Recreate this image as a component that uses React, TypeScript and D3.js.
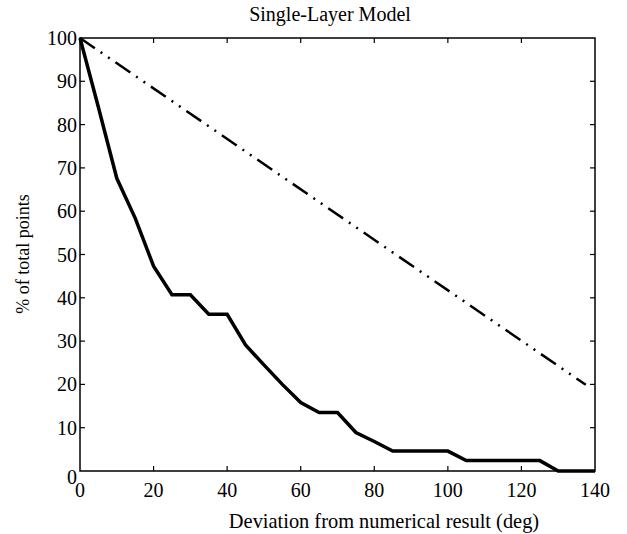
import React, { useRef, useEffect } from 'react';
import * as d3 from 'd3';

const degrees = [0, 5, 10, 15, 20, 25, 30, 35, 40, 45, 50, 55, 60, 65, 70, 75, 80, 85, 90, 95, 100, 105, 110, 115, 120, 125, 130, 135, 140];
const percentPoints = [100, 84, 67.6, 58.4, 47.3, 40.7, 40.7, 36.2, 36.2, 29.1, 24.5, 20, 15.8, 13.5, 13.5, 8.9, 6.8, 4.6, 4.6, 4.6, 4.6, 2.4, 2.4, 2.4, 2.4, 2.4, 0, 0, 0];
const refDegrees = [0, 137.5];
const refPercent = [100, 19.9];
const xTicks = [0, 20, 40, 60, 80, 100, 120, 140];
const yTicks = [0, 10, 20, 30, 40, 50, 60, 70, 80, 90, 100];

const App = () => {
  const ref = useRef<SVGSVGElement>(null);

  useEffect(() => {
    const svg = d3.select(ref.current);
    svg.selectAll('*').remove();
    const left = 80, right = 595, top = 38, bottom = 471;
    const font = 'Liberation Serif';

    const x = d3.scaleLinear().domain([0, 140]).range([left, right]);
    const y = d3.scaleLinear().domain([0, 100]).range([bottom, top]);

    svg.append('rect')
      .attr('x', left).attr('y', top)
      .attr('width', right - left).attr('height', bottom - top)
      .attr('fill', 'none').attr('stroke', '#000').attr('stroke-width', 1.5);

    const tickLen = 5;
    const g = svg.append('g').attr('stroke', '#000').attr('stroke-width', 1.2);
    xTicks.slice(1, -1).forEach(t => {
      g.append('line').attr('x1', x(t)).attr('x2', x(t)).attr('y1', bottom).attr('y2', bottom - tickLen);
      g.append('line').attr('x1', x(t)).attr('x2', x(t)).attr('y1', top).attr('y2', top + tickLen);
    });
    yTicks.slice(1, -1).forEach(t => {
      g.append('line').attr('y1', y(t)).attr('y2', y(t)).attr('x1', left).attr('x2', left + tickLen);
      g.append('line').attr('y1', y(t)).attr('y2', y(t)).attr('x1', right).attr('x2', right - tickLen);
    });

    svg.selectAll('text.xt').data(xTicks).enter().append('text')
      .attr('x', d => x(d)).attr('y', 497)
      .attr('text-anchor', 'middle')
      .attr('font-family', font).attr('font-size', 20)
      .text(d => d);

    svg.selectAll('text.yt').data(yTicks).enter().append('text')
      .attr('x', 77).attr('y', d => y(d) + (d === 0 ? 6 : 0))
      .attr('dy', '0.35em')
      .attr('text-anchor', 'end')
      .attr('font-family', font).attr('font-size', 20)
      .text(d => d);

    svg.append('text')
      .attr('x', 330).attr('y', 21)
      .attr('text-anchor', 'middle')
      .attr('font-family', font).attr('font-size', 20)
      .text('Single-Layer Model');

    svg.append('text')
      .attr('x', 384).attr('y', 528)
      .attr('text-anchor', 'middle')
      .attr('font-family', font).attr('font-size', 20.4)
      .text('Deviation from numerical result (deg)');

    svg.append('text')
      .attr('transform', 'translate(29,254) rotate(-90)')
      .attr('text-anchor', 'middle')
      .attr('font-family', font).attr('font-size', 18)
      .text('% of total points');

    const line = d3.line<[number, number]>()
      .x(d => x(d[0])).y(d => y(d[1]));

    svg.append('path')
      .datum(refDegrees.map((d, i) => [d, refPercent[i]] as [number, number]))
      .attr('d', line)
      .attr('fill', 'none').attr('stroke', '#000').attr('stroke-width', 2.5)
      .attr('stroke-dasharray', '18,7,2,7,2,7');

    svg.append('path')
      .datum(degrees.map((d, i) => [d, percentPoints[i]] as [number, number]))
      .attr('d', line)
      .attr('fill', 'none').attr('stroke', '#000').attr('stroke-width', 3.5)
      .attr('stroke-linejoin', 'miter');
  }, []);

  return (
    <svg ref={ref} width={627} height={534} style={{ position: 'absolute', left: 0, top: 0, background: '#fff' }}></svg>
  );
};

export default App;
